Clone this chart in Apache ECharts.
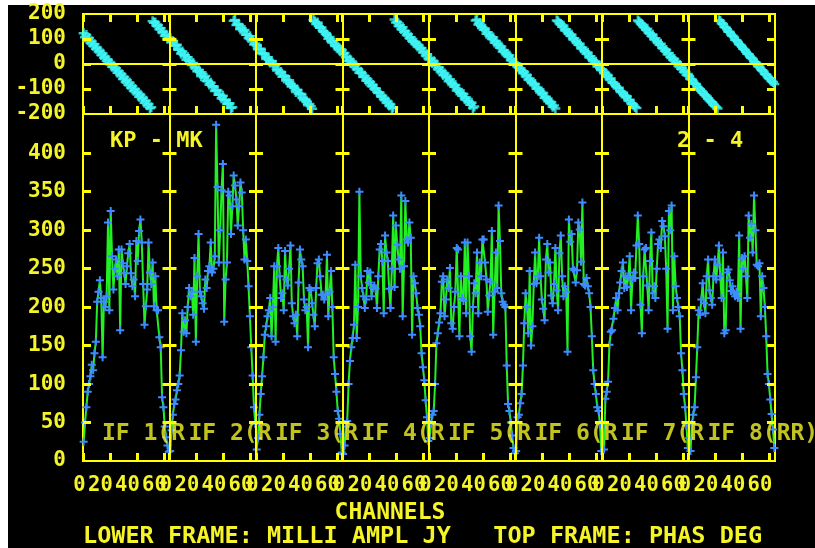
<!DOCTYPE html>
<html><head><meta charset="utf-8">
<script src="https://cdn.jsdelivr.net/npm/echarts@6/dist/echarts.min.js"></script>
<style>html,body{margin:0;padding:0;background:#000;}#c{width:815px;height:548px;}</style>
</head><body><div id="c"></div>
<script>
// ---- data ----
const NCH = 64;
const ifNames = ['IF 1(R','IF 2(R','IF 3(R','IF 4(R','IF 5(R','IF 6(R','IF 7(R','IF 8(RR)'];
const tickChannels = [0,20,40,60];
const tickLabels = ['0','20','40','60'];
const phaseTicks = [-100,0,100];
const ampTicks = [50,100,150,200,250,300,350,400];

const ph1 = [123,107,116,95,104,85,90,73,79,61,65,50,53,36,42,25,29,13,17,3,4,-11,-7,-21,-17,-35,-29,-45,-41,-60,-52,-71,-65,-83,-75,-95,-89,-107,-100,-117,-114,-131,-123,-141,-135,-155,-147,-165,-161,-177,-173,171,165,166,153,155,139,143,127,129,113,117,101,105];
const ph2 = [103,89,90,73,76,77,58,57,42,50,36,35,17,27,13,12,-4,4,-13,-14,-29,-23,-33,-49,-40,-54,-48,-68,-67,-82,-75,-89,-90,-108,-104,-106,-123,-123,-137,-127,-145,-144,-160,-158,-158,-176,-173,173,176,156,160,157,139,143,132,136,117,117,104,111,95,96,78,82];
const ph3 = [74,59,60,61,43,39,41,20,27,17,6,12,-4,-5,-4,-26,-24,-35,-32,-51,-46,-49,-63,-73,-65,-80,-90,-87,-95,-112,-103,-118,-120,-120,-137,-145,-140,-149,-165,-160,-169,-179,176,170,160,166,151,145,146,131,128,121,117,101,108,92,90,84,72,74,62,65,51,56];
const ph4 = [40,44,27,29,12,18,3,6,-9,-4,-21,-20,-35,-31,-38,-52,-49,-66,-61,-75,-72,-88,-84,-99,-97,-110,-116,-115,-130,-128,-141,-139,-154,-150,-166,-162,-176,-174,178,166,168,152,155,140,147,129,131,116,119,104,107,93,91,82,85,70,74,61,63,46,50,34,39,22];
const ph5 = [18,22,4,11,-7,-1,-21,-14,-30,-28,-44,-38,-53,-50,-69,-61,-76,-79,-90,-84,-106,-100,-111,-117,-127,-120,-141,-134,-148,-150,-163,-155,-176,-170,174,177,158,164,152,147,137,141,121,127,115,111,100,106,86,92,79,77,65,70,50,55,43,41,30,34,15,20,7,3];
const ph6 = [2,-10,-15,-21,-25,-37,-32,-49,-44,-62,-58,-70,-75,-84,-80,-99,-95,-106,-110,-121,-116,-135,-131,-142,-147,-157,-153,-171,-166,-178,174,171,163,159,149,153,135,139,127,123,113,117,99,103,91,87,77,81,63,66,55,51,41,45,27,31,19,15,5,9,-9,-5,-17,-21];
const ph7 = [-25,-37,-36,-49,-46,-61,-58,-73,-75,-82,-89,-97,-95,-109,-112,-118,-125,-133,-130,-146,-143,-157,-160,-166,-172,-176,174,170,163,158,150,146,137,141,125,123,113,117,99,103,91,87,77,81,65,63,53,56,39,44,29,27,17,20,3,7,-7,-4,-19,-16,-31,-28,-43,-40];
const ph8 = [-48,-60,-62,-70,-79,-80,-91,-97,-101,-108,-115,-121,-125,-130,-139,-145,-150,-153,-163,-168,-172,-178,175,172,163,160,149,146,139,129,128,118,113,108,97,95,88,79,76,69,61,57,49,41,39,30,25,20,10,7,0,-9,-11,-20,-25,-30,-40,-42,-50,-57,-60,-68,-72,-80];

const amp1 = [25,50,70,90,100,110,125,118,140,155,207,220,235,212,135,207,200,214,310,196,325,266,223,250,262,240,275,170,275,257,244,230,253,270,282,244,227,236,214,286,260,299,314,284,230,177,201,223,284,245,230,258,201,240,196,196,161,148,83,70,45,31,20,12];
const amp2 = [13,40,60,74,80,92,100,111,144,192,168,183,166,200,225,214,220,190,264,155,240,295,220,214,205,198,236,225,247,253,284,245,250,266,437,356,258,300,352,386,181,236,258,350,345,295,331,371,358,340,306,331,362,349,300,262,288,260,227,188,148,111,70,48];
const amp3 = [15,30,60,87,110,135,164,175,188,196,212,162,200,253,155,253,277,240,212,218,196,273,236,228,250,280,205,188,179,190,162,232,275,262,253,210,196,200,148,225,222,205,190,175,225,257,262,240,216,216,210,216,268,188,220,247,200,135,113,90,65,55,35,11];
const amp4 = [9,20,45,52,100,130,148,160,177,255,160,200,350,240,225,214,199,210,247,232,245,214,225,228,224,199,240,275,282,260,192,293,271,260,224,199,250,319,226,306,281,262,250,345,188,253,338,288,284,310,290,164,240,231,218,199,190,175,140,122,105,79,57,26];
const amp5 = [30,48,60,65,100,153,166,180,192,233,240,188,210,236,225,251,179,172,200,220,277,275,162,240,212,208,284,192,284,240,162,142,200,231,218,271,192,258,240,288,288,258,236,194,215,233,299,164,220,271,225,332,286,218,207,203,200,124,74,65,50,33,17,10];
const amp6 = [13,57,60,75,87,124,179,218,200,166,247,150,175,230,271,231,240,290,240,210,198,183,262,282,245,258,215,205,230,277,222,196,270,293,240,214,227,220,142,314,285,295,250,248,232,248,310,301,259,336,230,228,238,227,218,200,162,118,100,87,70,65,48,13];
const amp7 = [44,15,81,90,103,151,168,170,185,199,212,196,218,232,247,258,225,240,226,240,266,196,236,245,238,280,319,282,203,166,240,275,277,228,196,260,297,218,227,212,250,282,288,277,312,305,292,250,172,325,300,332,196,266,227,212,200,188,140,118,87,70,46,17];
const amp8 = [30,13,48,60,70,109,148,196,190,210,231,205,192,240,262,222,212,203,240,262,236,255,280,240,212,271,166,170,245,249,235,221,227,218,214,220,212,293,172,264,250,266,240,212,319,290,308,271,345,300,255,253,257,188,240,225,200,162,113,100,80,61,41,17];

// ---- build ----
const phases = [ph1,ph2,ph3,ph4,ph5,ph6,ph7,ph8];
const amps = [amp1,amp2,amp3,amp4,amp5,amp6,amp7,amp8];
const NIF = phases.length;
const XMAX = NIF*NCH;
const PH_MIN = -200, PH_MAX = 200, AMP_MIN = 0, AMP_MAX = 451;
const YEL = '#ffff00';
const TXT = '#f4f428';
const FONT = '"DejaVu Sans Mono", monospace';
const PLUS = 'path://M3,0H5V3H8V5H5V8H3V5H0V3H3Z';
// grid geometry (pixels) used only to convert a tick length in pixels into data units
const G_LEFT = 83, G_RIGHT = 40, G0_TOP = 14, G0_H = 100, G1_TOP = 114, G1_H = 347, W = 815;
const TICK_PX = 8, CROSS_PX = 7;
const chPerPx = XMAX / (W - G_LEFT - G_RIGHT);
const phPerPx = (PH_MAX - PH_MIN) / G0_H;
const ampPerPx = (AMP_MAX - AMP_MIN) / G1_H;

const xTickVals = [];
for (let k = 0; k < NIF; k++) tickChannels.forEach(t => xTickVals.push(k*NCH + t));
const xLabelVals = xTickVals.map(v => v + 2);
const sepVals = [];
for (let k = 1; k < NIF; k++) sepVals.push(k*NCH);

function xAx(grid, pos, labels) {
  return {gridIndex:grid, type:'value', min:0, max:XMAX, position:pos,
    axisLine:{show:false}, splitLine:{show:false}, axisTick:{show:false},
    axisLabel: labels ? {show:true, customValues:xLabelVals, color:TXT, fontFamily:FONT, fontSize:20.5,
      fontWeight:'bold', align:'right', margin:14,
      formatter: v => tickLabels[tickChannels.indexOf((Math.round(v) - 2) % NCH)]} : {show:false}};
}
function yAx(grid, pos, min, max, interval, labels, fmt) {
  return {gridIndex:grid, type:'value', min, max, interval, position:pos,
    axisLine:{show:false}, splitLine:{show:false}, axisTick:{show:false},
    axisLabel: labels ? {show:true, color:TXT, fontFamily:FONT, fontSize:21, fontWeight:'bold', margin:17,
      showMinLabel:true, showMaxLabel:true, formatter: fmt} : {show:false}};
}
const seg = (x1,y1,x2,y2) => [{coord:[x1,y1]},{coord:[x2,y2]}];

// tick marks and separator crosses (short yellow segments)
const topTicks = [], botTicks = [];
xTickVals.forEach(v => {
  topTicks.push(seg(v, PH_MAX, v, PH_MAX - TICK_PX*phPerPx));
  topTicks.push(seg(v, PH_MIN, v, PH_MIN + TICK_PX*phPerPx));
  botTicks.push(seg(v, AMP_MIN, v, AMP_MIN + TICK_PX*ampPerPx));
});
phaseTicks.forEach(p => {
  topTicks.push(seg(0, p, TICK_PX*chPerPx, p));
  topTicks.push(seg(XMAX, p, XMAX - TICK_PX*chPerPx, p));
  sepVals.forEach(s => topTicks.push(seg(s - CROSS_PX*chPerPx, p, s + CROSS_PX*chPerPx, p)));
});
ampTicks.forEach(a => {
  botTicks.push(seg(0, a, TICK_PX*chPerPx, a));
  botTicks.push(seg(XMAX, a, XMAX - TICK_PX*chPerPx, a));
  sepVals.forEach(s => botTicks.push(seg(s - CROSS_PX*chPerPx, a, s + CROSS_PX*chPerPx, a)));
});

const lineCommon = {symbol:'none', silent:true, label:{show:false}, emphasis:{disabled:true}};
const series = [];
series.push({type:'scatter', xAxisIndex:0, yAxisIndex:0, data:[], silent:true, z:2,
  markLine:Object.assign({data: sepVals.map(s => ({xAxis:s})).concat([{yAxis:0}]),
    lineStyle:{color:YEL, width:2, type:'solid'}}, lineCommon)});
series.push({type:'scatter', xAxisIndex:0, yAxisIndex:0, data:[], silent:true, z:4,
  markLine:Object.assign({data: topTicks, lineStyle:{color:YEL, width:3, type:'solid'}}, lineCommon)});
series.push({type:'scatter', xAxisIndex:2, yAxisIndex:2, data:[], silent:true, z:2,
  markLine:Object.assign({data: sepVals.map(s => ({xAxis:s})), lineStyle:{color:YEL, width:2, type:'solid'}}, lineCommon)});
series.push({type:'scatter', xAxisIndex:2, yAxisIndex:2, data:[], silent:true, z:4,
  markLine:Object.assign({data: botTicks, lineStyle:{color:YEL, width:3, type:'solid'}}, lineCommon)});

for (let k = 0; k < NIF; k++) {
  series.push({type:'scatter', xAxisIndex:0, yAxisIndex:0, z:3,
    data: phases[k].map((v,i) => [k*NCH + i + 0.5, v]),
    symbol:PLUS, symbolSize:10, itemStyle:{color:'#3ff6f6'}});
  series.push({type:'line', xAxisIndex:2, yAxisIndex:2, z:3,
    data: amps[k].map((v,i) => [k*NCH + i + 0.5, v]),
    showAllSymbol:true, symbol:PLUS, symbolSize:8,
    lineStyle:{color:'#22f022', width:2}, itemStyle:{color:'#3d8cff'}});
}
// IF labels placed in data space
series.push({type:'scatter', xAxisIndex:2, yAxisIndex:2, z:5, symbolSize:0, silent:true,
  data: ifNames.map((n,k) => ({value:[k*NCH + 14, 35], name:n})),
  label:{show:true, position:'right', distance:0, formatter: p => p.name, color:TXT, fontFamily:FONT,
    fontSize:23, fontWeight:'bold'}});

const chart = echarts.init(document.getElementById('c'), null, {renderer:'canvas'});
chart.setOption({
  backgroundColor:'#000', animation:false,
  grid:[
    {left:G_LEFT, right:G_RIGHT, top:G0_TOP, height:G0_H, show:true, borderColor:YEL, borderWidth:2},
    {left:G_LEFT, right:G_RIGHT, top:G1_TOP, height:G1_H, show:true, borderColor:YEL, borderWidth:2}
  ],
  xAxis:[xAx(0,'bottom',false), xAx(0,'top',false), xAx(1,'bottom',true)],
  yAxis:[
    yAx(0,'left',PH_MIN,PH_MAX,100,true),
    yAx(0,'right',PH_MIN,PH_MAX,100,false),
    yAx(1,'left',AMP_MIN,AMP_MAX,50,true, v => v <= 400 ? String(v) : ''),
    yAx(1,'right',AMP_MIN,AMP_MAX,50,false)
  ],
  series,
  graphic:[
    {type:'rect', shape:{x:0,y:0,width:815,height:5}, style:{fill:'#fff'}, silent:true},
    {type:'rect', shape:{x:0,y:0,width:8,height:548}, style:{fill:'#fff'}, silent:true},
    {type:'text', x:110, y:141, style:{text:'KP - MK', fill:TXT, font:'bold 22px '+FONT, verticalAlign:'middle'}},
    {type:'text', x:677, y:141, style:{text:'2 - 4', fill:TXT, font:'bold 22px '+FONT, verticalAlign:'middle'}},
    {type:'text', x:390, y:513, style:{text:'CHANNELS', fill:TXT, font:'bold 23px '+FONT, align:'center', verticalAlign:'middle'}},
    {type:'text', x:83, y:537, style:{text:'LOWER FRAME: MILLI AMPL JY   TOP FRAME: PHAS DEG', fill:TXT, font:'bold 23.5px '+FONT, verticalAlign:'middle'}}
  ]
});
</script></body></html>
